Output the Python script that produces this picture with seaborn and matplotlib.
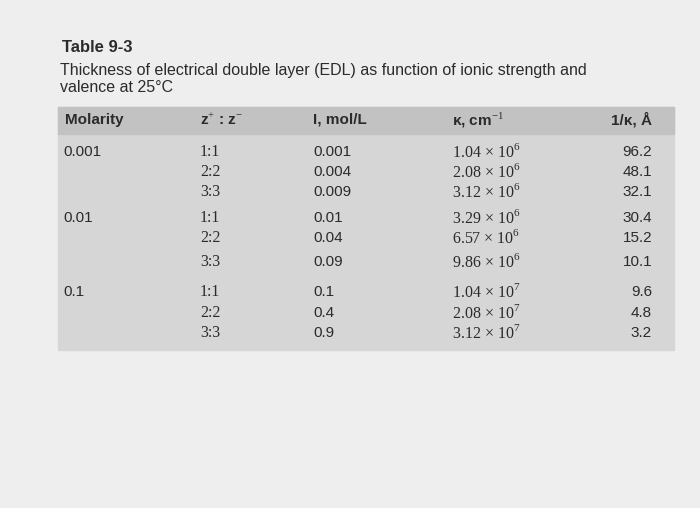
import matplotlib
matplotlib.use("Agg")
import matplotlib.pyplot as plt
import seaborn as sns
from matplotlib.patches import Rectangle

sns.set_theme(style="white")
plt.rcParams["font.family"] = ["Liberation Sans", "DejaVu Sans"]
plt.rcParams["mathtext.fontset"] = "custom"
plt.rcParams["mathtext.rm"] = "Liberation Serif"

# table data
title = "Table 9-3"
subtitle = ["Thickness of electrical double layer (EDL) as function of ionic strength and",
            "valence at 25°C"]
headers = ["Molarity", "z$^{+}$ : z$^{-}$", "I, mol/L", "κ, cm$^{-1}$", "1/κ, Å"]
molarity = ["0.001", "0.01", "0.1"]
valence = ["1:1", "2:2", "3:3"] * 3
ionic = ["0.001", "0.004", "0.009", "0.01", "0.04", "0.09", "0.1", "0.4", "0.9"]
kappa_mant = ["1.04", "2.08", "3.12", "3.29", "6.57", "9.86", "1.04", "2.08", "3.12"]
kappa_exp = [6, 6, 6, 6, 6, 6, 7, 7, 7]
debye = ["96.2", "48.1", "32.1", "30.4", "15.2", "10.1", "9.6", "4.8", "3.2"]

row_y = [152, 172, 192, 218, 238, 262, 292, 313, 333]
ink = "#2b2b2b"

fig = plt.figure(figsize=(7, 5.08), dpi=100)
fig.patch.set_facecolor("#eeeeee")
ax = fig.add_axes([0, 0, 1, 1])
ax.set_xlim(0, 700)
ax.set_ylim(508, 0)
ax.axis("off")

ax.add_patch(Rectangle((58, 107), 616, 243, color="#d6d6d6", zorder=0))
ax.add_patch(Rectangle((58, 107), 616, 27, color="#c2c2c2", zorder=0))

ax.text(62, 47, title, fontsize=12, fontweight="bold", color=ink, va="center")
ax.text(60, 70, subtitle[0], fontsize=11.5, color=ink, va="center")
ax.text(60, 88, subtitle[1], fontsize=11.5, color=ink, va="center")

hx = [65, 200, 313, 452, 652]
ha = ["left", "left", "left", "left", "right"]
for x, h, a in zip(hx, headers, ha):
    ax.text(x, 120, h, fontsize=11, fontweight="bold", color=ink, va="center", ha=a)

for m, y in zip(molarity, [152, 218, 292]):
    ax.text(63, y, m, fontsize=11, color=ink, va="center")

for i, y in enumerate(row_y):
    ax.text(200, y, valence[i], fontsize=11.5, color=ink, va="center", family="Liberation Serif")
    ax.text(313, y, ionic[i], fontsize=11, color=ink, va="center")
    ax.text(452, y, rf"{kappa_mant[i]} $\times$ 10$^{{{kappa_exp[i]}}}$", fontsize=11.5,
            color=ink, va="center", family="Liberation Serif")
    ax.text(652, y, debye[i], fontsize=11, color=ink, va="center", ha="right")

fig.savefig("out.png", dpi=100)
